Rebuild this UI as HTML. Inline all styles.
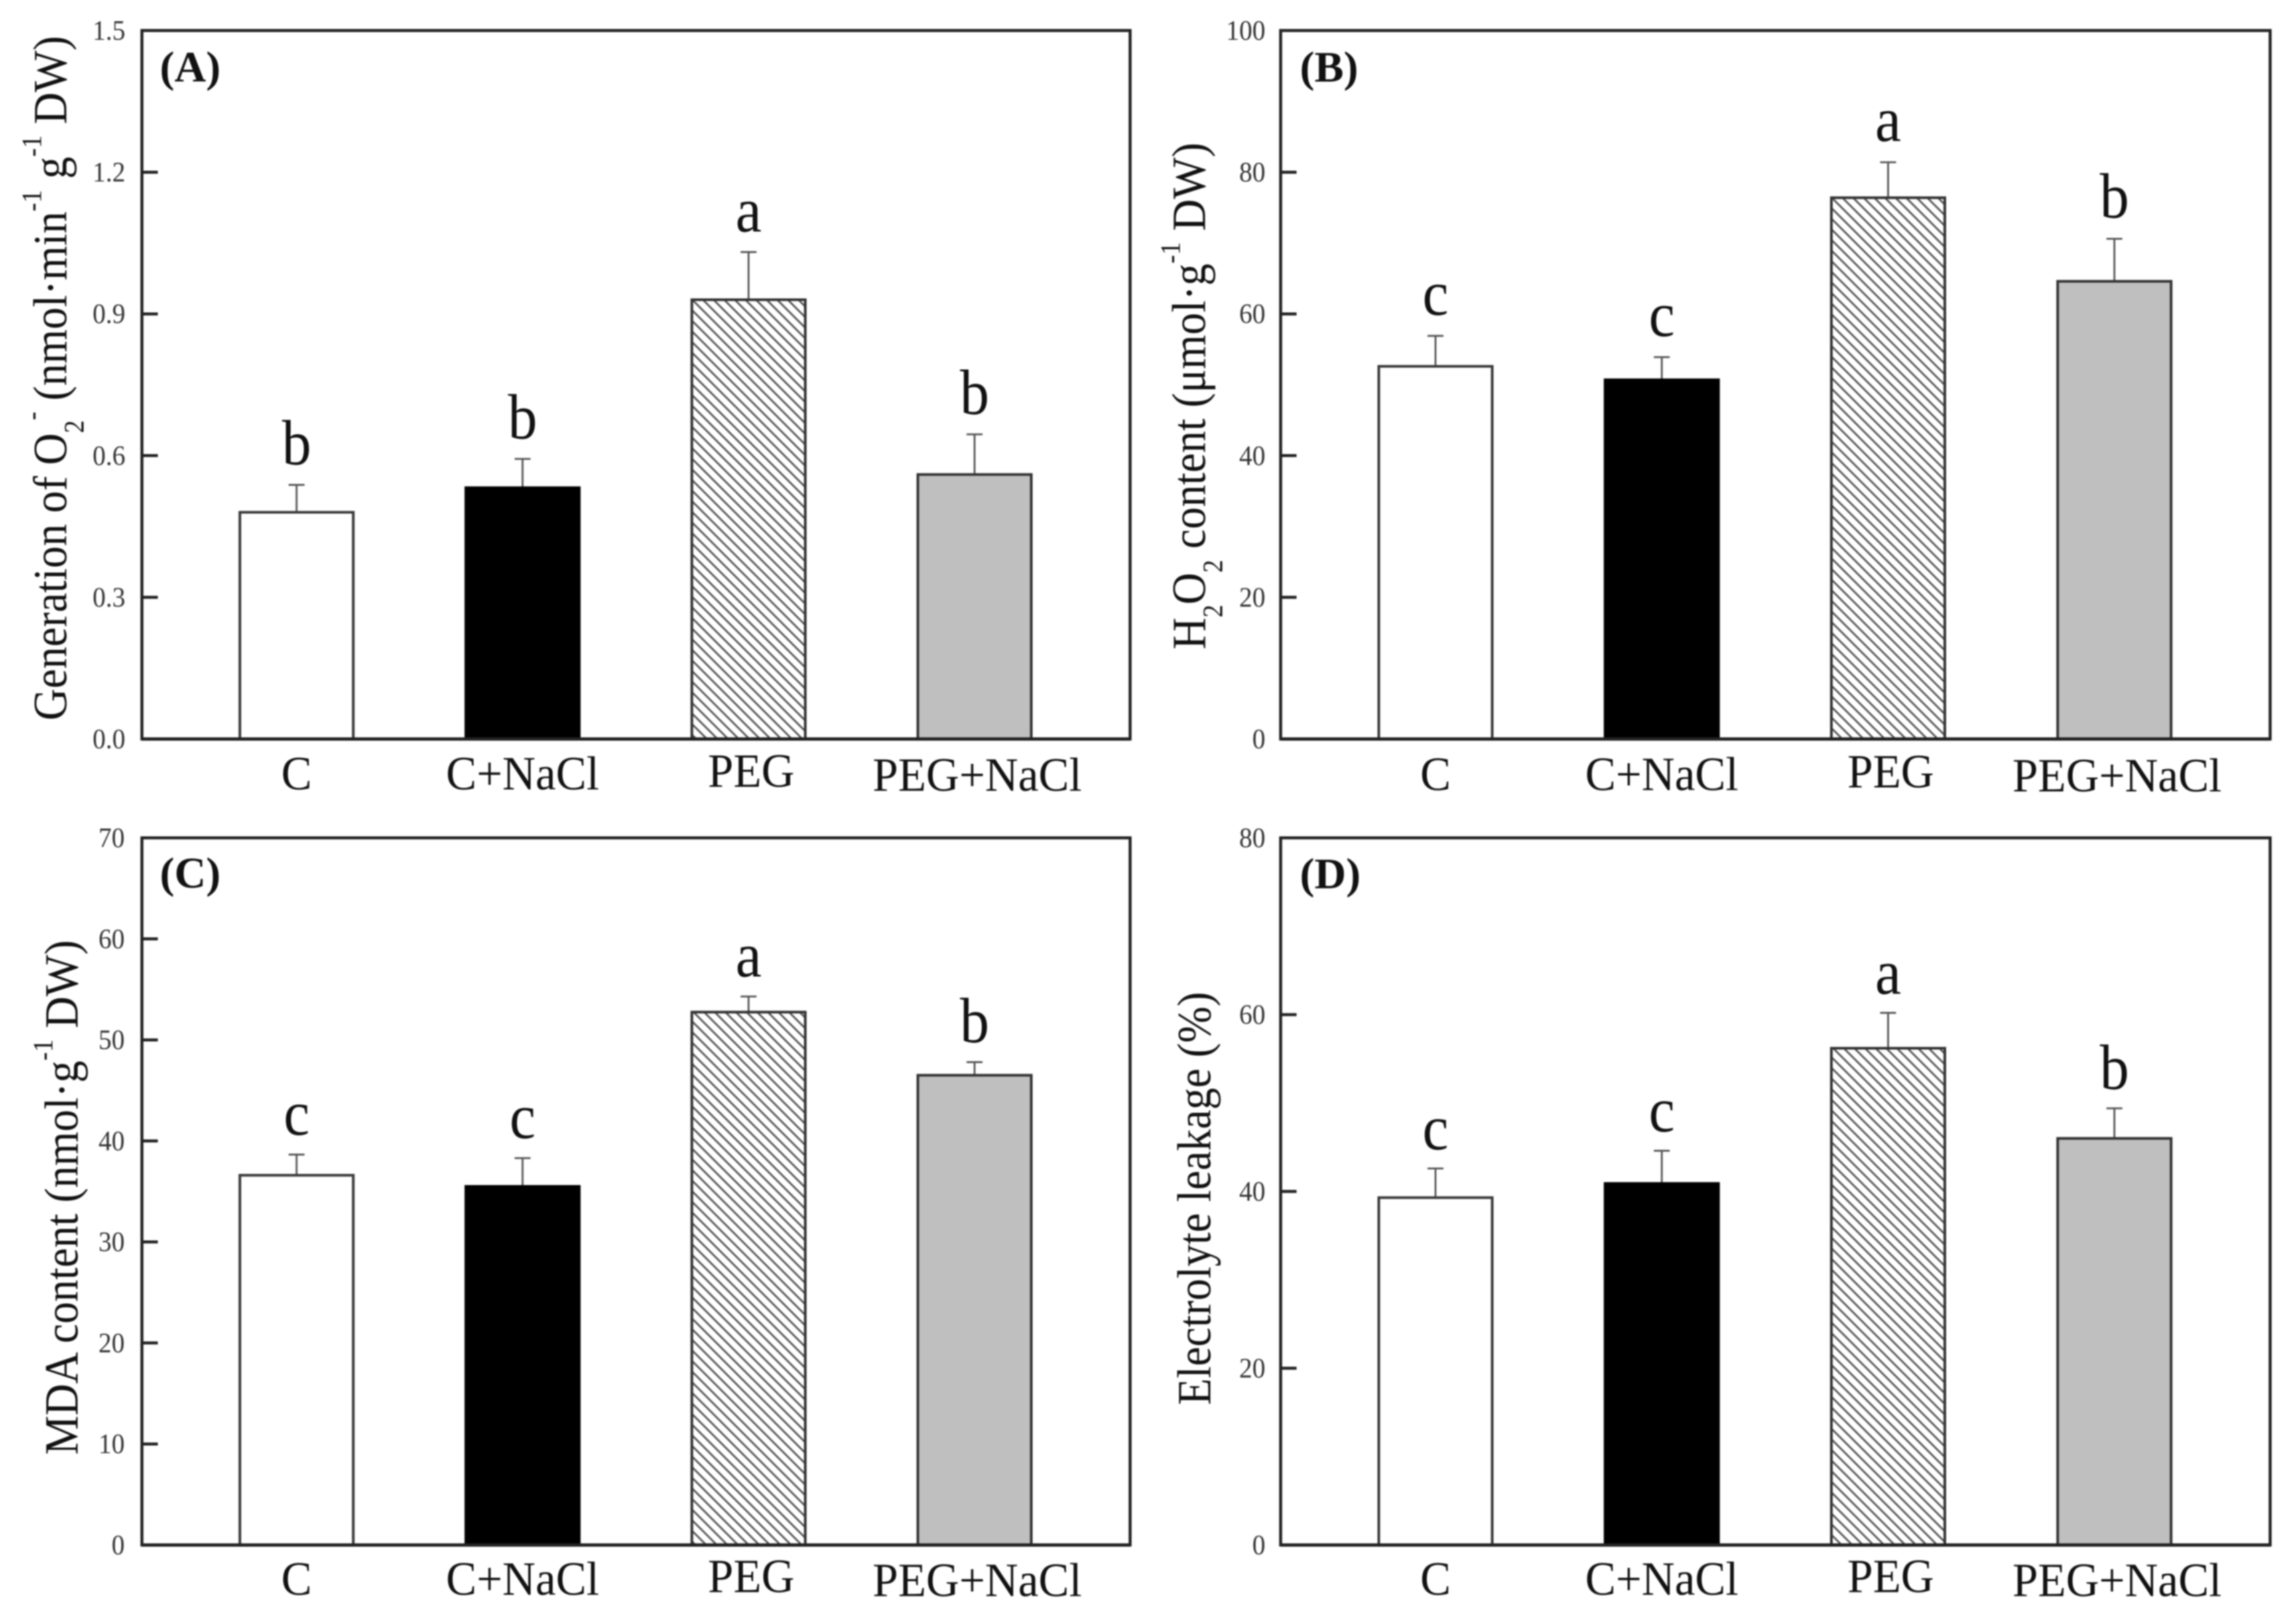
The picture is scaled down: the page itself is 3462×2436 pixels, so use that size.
<!DOCTYPE html>
<html lang="en">
<head>
<meta charset="utf-8">
<title>Oxidative stress indicators under PEG and NaCl treatments</title>
<style>
html,body{margin:0;padding:0;background:#fff;}
#figure{display:block;width:3462px;height:2436px;filter:blur(1px);}
text{font-family:"Liberation Serif",serif;}
</style>
</head>
<body>
<svg id="figure" xmlns="http://www.w3.org/2000/svg" width="3462" height="2436" viewBox="0 0 3462 2436">
<defs>
<pattern id="hatch" patternUnits="userSpaceOnUse" width="16" height="16">
<rect width="16" height="16" fill="#fff"/>
<path d="M-4 -4 L20 20 M-4 12 L4 20 M12 -4 L20 4" stroke="#555" stroke-width="2.8" fill="none"/>
</pattern>
</defs>
<rect width="3462" height="2436" fill="#fff"/>
</svg>
<script>
const categories = ['C', 'C+NaCl', 'PEG', 'PEG+NaCl'];

const valuesA = [0.48, 0.532, 0.93, 0.56];
const errorsA = [0.058, 0.061, 0.101, 0.085];
const lettersA = ['b', 'b', 'a', 'b'];
const ticksA = ['0.0', '0.3', '0.6', '0.9', '1.2', '1.5'];

const valuesB = [52.6, 50.7, 76.4, 64.6];
const errorsB = [4.3, 3.2, 5.0, 6.0];
const lettersB = ['c', 'c', 'a', 'b'];
const ticksB = ['0', '20', '40', '60', '80', '100'];

const valuesC = [36.6, 35.5, 52.75, 46.5];
const errorsC = [2.05, 2.8, 1.55, 1.3];
const lettersC = ['c', 'c', 'a', 'b'];
const ticksC = ['0', '10', '20', '30', '40', '50', '60', '70'];

const valuesD = [39.3, 40.9, 56.2, 46.0];
const errorsD = [3.3, 3.7, 4.0, 3.4];
const lettersD = ['c', 'c', 'a', 'b'];
const ticksD = ['0', '20', '40', '60', '80'];

const titleA = [['Generation of O', 0], ['2', 1], ['-', 2], [' (nmol\u00b7min', 0], ['-1', 2], [' g', 0], ['-1', 2], [' DW)', 0]];
const titleB = [['H', 0], ['2', 1], ['O', 0], ['2', 1], [' content (\u03bcmol\u00b7g', 0], ['-1', 2], [' DW)', 0]];
const titleC = [['MDA content (nmol\u00b7g', 0], ['-1', 2], [' DW)', 0]];
const titleD = [['Electrolyte leakage (%)', 0]];

const panels = [
  { id: 'a', label: '(A)', values: valuesA, errors: errorsA, letters: lettersA, ticks: ticksA, title: titleA,
    left: 214, right: 1704, top: 46, bottom: 1114, labelX: 241, labelY: 123, tickRight: 189,
    titleX: 100, titleBottom: 1086, titleTop: 54, letterGap: 31, xLabelY: 1190 },
  { id: 'b', label: '(B)', values: valuesB, errors: errorsB, letters: lettersB, ticks: ticksB, title: titleB,
    left: 1931, right: 3423, top: 46, bottom: 1114, labelX: 1960, labelY: 123, tickRight: 1908,
    titleX: 1817, titleBottom: 979, titleTop: 215, letterGap: 32, xLabelY: 1191 },
  { id: 'c', label: '(C)', values: valuesC, errors: errorsC, letters: lettersC, ticks: ticksC, title: titleC,
    left: 214, right: 1704, top: 1263, bottom: 2329, labelX: 241, labelY: 1338, tickRight: 188,
    titleX: 117, titleBottom: 2193, titleTop: 1417, letterGap: 30, xLabelY: 2404 },
  { id: 'd', label: '(D)', values: valuesD, errors: errorsD, letters: lettersD, ticks: ticksD, title: titleD,
    left: 1931, right: 3423, top: 1263, bottom: 2329, labelX: 1960, labelY: 1339, tickRight: 1908,
    titleX: 1825, titleBottom: 2118, titleTop: 1495, letterGap: 29, xLabelY: 2404 }
];

const svg = document.getElementById('figure');
const NS = 'http://www.w3.org/2000/svg';
const barFills = ['#ffffff', '#000000', 'url(#hatch)', '#bfbfbf'];
const barStrokes = ['#3a3a3a', '#000000', '#333333', '#333333'];
const barWidth = 171;

function make(tag, attrs, parent) {
  const el = document.createElementNS(NS, tag);
  for (const k in attrs) el.setAttribute(k, attrs[k]);
  parent.appendChild(el);
  return el;
}

panels.forEach(function (p) {
  const yMax = parseFloat(p.ticks[p.ticks.length - 1]);
  const yScale = function (v) { return p.bottom - (v / yMax) * (p.bottom - p.top); };
  const plotW = p.right - p.left;
  const xScale = function (i) { return p.left + plotW * (0.1565 + 0.2287 * i); };

  const group = make('g', {}, svg);
  
  

  const frame = make('rect', { x: p.left, y: p.top, width: plotW, height: p.bottom - p.top, fill: '#fff', stroke: '#222', 'stroke-width': 4.5 }, group);
  
  

  p.ticks.forEach(function (t) {
    const v = parseFloat(t);
    const y = yScale(v);
    if (v > 0 && v < yMax) {
      const tick = make('line', { x1: p.left, x2: p.left + 24, y1: y, y2: y, stroke: '#222', 'stroke-width': 4.5 }, group);
      
      
    }
    const lab = make('text', { transform: 'translate(' + p.tickRight + ',' + (y + 14) + ') scale(0.94,1)', 'text-anchor': 'end', 'font-size': 42, fill: '#333' }, group);
    lab.textContent = t;
    
    
  });

  p.values.forEach(function (v, i) {
    const cx = xScale(i);
    const yTop = yScale(v);
    const yCap = yScale(v + p.errors[i]);

    const stem = make('line', { x1: cx, x2: cx, y1: yTop, y2: yCap, stroke: '#555', 'stroke-width': 2.8 }, group);
    
    

    const cap = make('line', { x1: cx - 12, x2: cx + 12, y1: yCap, y2: yCap, stroke: '#555', 'stroke-width': 2.8 }, group);
    
    

    const bar = make('rect', { x: cx - barWidth / 2, y: yTop, width: barWidth, height: p.bottom - yTop, fill: barFills[i], stroke: barStrokes[i], 'stroke-width': 4 }, group);
    
    

    const letter = make('text', { transform: 'translate(' + cx + ',' + (yCap - p.letterGap) + ') scale(0.92,1)', 'text-anchor': 'middle', 'font-size': 96, fill: '#111' }, group);
    letter.textContent = p.letters[i];
    
    

    const xl = make('text', { transform: 'translate(' + (cx + (i > 1 ? 4 : 0)) + ',' + (p.xLabelY + (i === 2 ? -4 : i === 3 ? 2 : 0)) + ') scale(0.96,1)', 'text-anchor': 'middle', 'font-size': 72, fill: '#111' }, group);
    xl.textContent = categories[i];
    
    
  });

  const base = make('line', { x1: p.left, x2: p.right, y1: p.bottom, y2: p.bottom, stroke: '#222', 'stroke-width': 5 }, group);
  
  

  const label = make('text', { x: p.labelX, y: p.labelY, 'font-size': 66, 'font-weight': 'bold', fill: '#111' }, group);
  label.textContent = p.label;
  
  

  const title = make('text', { 'font-size': 72, fill: '#111' }, group);
  
  
  let shift = 0;
  p.title.forEach(function (seg) {
    const target = seg[1] === 1 ? 26 : seg[1] === 2 ? -38 : 0;
    const span = make('tspan', { dy: target - shift, 'font-size': seg[1] === 0 ? 72 : 42 }, title);
    span.setAttribute('xml:space', 'preserve');
    span.style.whiteSpace = 'pre';
    span.textContent = seg[0];
    shift = target;
  });
  title.style.whiteSpace = 'pre';
  const len = title.getComputedTextLength();
  const along = (p.titleBottom - p.titleTop) / len;
  title.setAttribute('transform', 'translate(' + p.titleX + ',' + p.titleBottom + ') rotate(-90) scale(' + along.toFixed(4) + ',1)');
});
</script>
</body>
</html>
